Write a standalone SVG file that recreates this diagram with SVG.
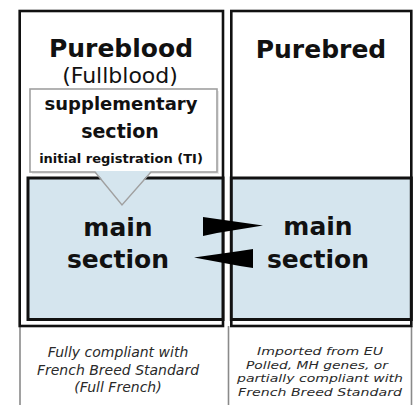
<svg xmlns="http://www.w3.org/2000/svg" width="420" height="405" viewBox="0 0 420 405">
  <style>
    .frame { fill: #ffffff; stroke: #111; stroke-width: 2.6; }
    .main { fill: #d5e5ee; stroke: #111; stroke-width: 3; }
    .foot { fill: none; stroke: #8a8a8a; stroke-width: 1.6; }
    .supp { fill: #ffffff; stroke: #a0a0a0; stroke-width: 1.6; }
    .t { font-family: "DejaVu Sans", Verdana, sans-serif; fill: #111; text-anchor: middle; }
    .b { font-weight: bold; }
    .note { font-family: "DejaVu Sans", Verdana, sans-serif; font-style: italic; fill: #2a2a2a; text-anchor: middle; font-size: 14px; }
    .note2 { font-size: 11px; }
    .arrow { fill: #000; }
  </style>
  <rect width="420" height="405" fill="#ffffff"/>

  <g id="footer-left">
    <line class="foot" x1="20" y1="326" x2="20" y2="405"/>
    <text class="note" x="118" y="357">Fully compliant with</text>
    <text class="note" x="118" y="375">French Breed Standard</text>
    <text class="note" x="118" y="392">(Full French)</text>
  </g>
  <g id="footer-right">
    <line class="foot" x1="228.5" y1="326" x2="228.5" y2="405"/>
    <line class="foot" x1="411.5" y1="326" x2="411.5" y2="405"/>
    <text class="note note2" x="320" y="355" textLength="126" lengthAdjust="spacingAndGlyphs">Imported from EU</text>
    <text class="note note2" x="317" y="368.5" textLength="142" lengthAdjust="spacingAndGlyphs">Polled, MH genes, or</text>
    <text class="note note2" x="320" y="382" textLength="166" lengthAdjust="spacingAndGlyphs">partially compliant with</text>
    <text class="note note2" x="320" y="395.5" textLength="164" lengthAdjust="spacingAndGlyphs">French Breed Standard</text>
  </g>

  <g id="pureblood">
    <rect class="frame" x="19.7" y="11" width="203.3" height="315"/>
    <text class="t b" x="121" y="57" font-size="25">Pureblood</text>
    <text class="t" x="120" y="83" font-size="22">(Fullblood)</text>
  </g>
  <g id="purebred">
    <rect class="frame" x="231.3" y="11" width="180" height="315"/>
    <text class="t b" x="321" y="58" font-size="25">Purebred</text>
  </g>

  <g id="main-left">
    <rect class="main" x="28" y="178" width="195" height="141.5"/>
    <text class="t b" x="118" y="236" font-size="25">main</text>
    <text class="t b" x="118" y="268" font-size="25">section</text>
  </g>
  <g id="main-right">
    <rect class="main" x="231.3" y="178" width="180" height="141.5"/>
    <text class="t b" x="318" y="235" font-size="25">main</text>
    <text class="t b" x="318" y="268" font-size="25">section</text>
  </g>

  <g id="supplementary">
    <rect x="32" y="91" width="187" height="83" fill="#d8d8d8" opacity="0.6"/>
    <rect class="supp" x="30" y="89" width="187" height="83"/>
    <polygon points="95,171 151,171 122,205" fill="#d5e5ee"/>
    <polyline points="95,172 122,205 151,172" fill="none" stroke="#a0a0a0" stroke-width="1.4"/>
    <text class="t b" x="121" y="110" font-size="18">supplementary</text>
    <text class="t b" x="120" y="138" font-size="19">section</text>
    <text class="t b" x="121" y="163" font-size="13">initial registration (TI)</text>
  </g>

  <g id="connectors">
    <polygon class="arrow" points="203,217 217,219 263,225.5 217,233 203,236"/>
    <polygon class="arrow" points="194,257.5 240,251 253,249 253,268 240,266"/>
  </g>
</svg>
